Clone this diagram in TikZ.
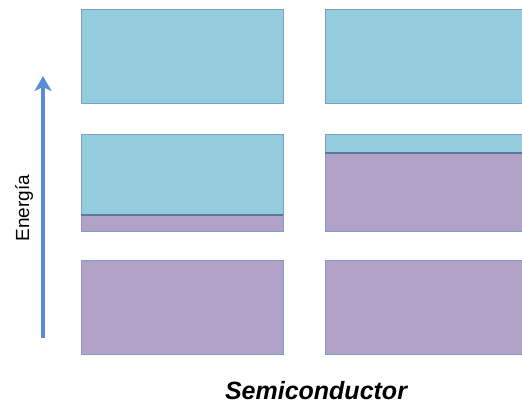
\documentclass[tikz,border=0pt]{standalone}
\usepackage{fontspec}
\setmainfont{Liberation Sans}
\usetikzlibrary{arrows.meta}
\definecolor{cb}{HTML}{93CCDD}
\definecolor{vb}{HTML}{B2A2C7}
\definecolor{edge}{HTML}{7F9DC6}
\definecolor{split}{HTML}{5B76A0}
\definecolor{arr}{HTML}{5B8DD6}
\tikzset{
  band/.style={draw=edge, line width=0.9pt},
  splitline/.style={draw=split, line width=1.3pt},
}
\begin{document}
\begin{tikzpicture}[x=1pt,y=-1pt]
\useasboundingbox (0,0) rectangle (522,405);
% left column
\fill[cb] (81,9) rectangle (283,103);
\draw[band] (81,9) rectangle (283,103);
\fill[cb] (81,134) rectangle (283,215);
\fill[vb] (81,215) rectangle (283,231);
\draw[band] (81,134) rectangle (283,231);
\draw[splitline] (81,215) -- (283,215);
\fill[vb] (81,260) rectangle (283,354);
\draw[band] (81,260) rectangle (283,354);
% right column
\fill[cb] (325,9) rectangle (523,103);
\draw[band] (325,9) rectangle (523,103);
\fill[cb] (325,134) rectangle (523,153);
\fill[vb] (325,153) rectangle (523,231);
\draw[band] (325,134) rectangle (523,231);
\draw[splitline] (325,153) -- (523,153);
\fill[vb] (325,260) rectangle (523,354);
\draw[band] (325,260) rectangle (523,354);
% arrow
\coordinate (abot) at (43,338);
\coordinate (atop) at (43,76);
\draw[arr, line width=3.6pt, -{Stealth[length=15pt,width=17pt,inset=4pt]}] (abot) -- (atop);
\node[rotate=90, font=\fontsize{19}{22}\selectfont] (en) at (24,208) {Energía};
\node[font=\fontsize{25}{28}\selectfont\bfseries\itshape] (sc) at (316,391) {Semiconductor};
\end{tikzpicture}
\end{document}
